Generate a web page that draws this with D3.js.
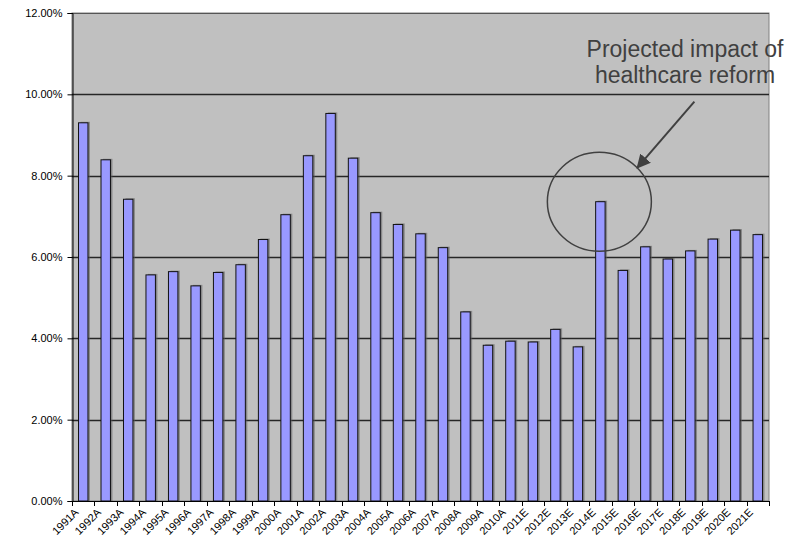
<!DOCTYPE html>
<html>
<head>
<meta charset="utf-8">
<script src="https://cdn.jsdelivr.net/npm/d3@7"></script>
<style>
  html, body { margin: 0; padding: 0; background: #ffffff; }
  svg { display: block; font-family: Arial, "Liberation Sans", sans-serif; }
</style>
</head>
<body>
<svg id="chart" width="794" height="544"></svg>
<script>
// Annual growth rate, actual (A) and estimated (E)
const years = [
  "1991A","1992A","1993A","1994A","1995A","1996A","1997A","1998A","1999A","2000A",
  "2001A","2002A","2003A","2004A","2005A","2006A","2007A","2008A","2009A","2010A",
  "2011E","2012E","2013E","2014E","2015E","2016E","2017E","2018E","2019E","2020E","2021E"
];
const growth = [
  9.30, 8.39, 7.42, 5.56, 5.64, 5.29, 5.62, 5.81, 6.43, 7.04,
  8.49, 9.53, 8.43, 7.09, 6.80, 6.57, 6.23, 4.65, 3.83, 3.93,
  3.91, 4.22, 3.79, 7.36, 5.67, 6.25, 5.95, 6.15, 6.44, 6.66, 6.55
];
const yTicks = [0, 2, 4, 6, 8, 10, 12];
const calloutYear = "2014E";
const calloutLines = ["Projected impact of", "healthcare reform"];

const svg = d3.select("#chart");
const margin = { left: 72, top: 13, right: 25, bottom: 43 };
const W = 794, H = 544;
const innerW = W - margin.left - margin.right;
const innerH = H - margin.top - margin.bottom;

const x = d3.scaleBand().domain(years).range([0, innerW]).paddingInner(0.58).paddingOuter(0.29);
const xEdge = d3.scaleLinear().domain([0, years.length]).range([0, innerW]);
const y = d3.scaleLinear().domain([0, 12]).range([innerH, 0]);

const g = svg.append("g").attr("transform", `translate(${margin.left},${margin.top})`);

// plot background
g.append("rect")
  .attr("x", 0).attr("y", 0).attr("width", innerW).attr("height", innerH)
  .attr("fill", "#c0c0c0").attr("stroke", "#808080").attr("stroke-width", 1);

// horizontal gridlines
g.selectAll("line.grid").data(yTicks.filter(t => t > 0 && t < 12)).join("line")
  .attr("class", "grid")
  .attr("x1", 0).attr("x2", innerW)
  .attr("y1", d => Math.round(y(d)) + 0.5).attr("y2", d => Math.round(y(d)) + 0.5)
  .attr("stroke", "#262626").attr("stroke-width", 1.3);

// top border line
g.append("line").attr("x1", 0).attr("x2", innerW).attr("y1", 0.5).attr("y2", 0.5)
  .attr("stroke", "#555").attr("stroke-width", 1.2);

// bar shadows
g.selectAll("rect.shadow").data(years).join("rect")
  .attr("class", "shadow")
  .attr("x", d => x(d) + 2)
  .attr("y", (d, i) => y(growth[i]) - 1)
  .attr("width", x.bandwidth())
  .attr("height", (d, i) => innerH - y(growth[i]) + 1)
  .attr("fill", "#5a5a5a").attr("opacity", 0.55);

// bars
g.selectAll("rect.bar").data(years).join("rect")
  .attr("class", "bar")
  .attr("x", d => x(d))
  .attr("y", (d, i) => y(growth[i]))
  .attr("width", x.bandwidth())
  .attr("height", (d, i) => innerH - y(growth[i]))
  .attr("fill", "#9999ff").attr("stroke", "#111").attr("stroke-width", 1);

// y axis
const yAxis = d3.axisLeft(y).tickValues(yTicks).tickSize(5).tickFormat(d => d3.format(".2f")(d) + "%");
const ya = g.append("g").attr("transform", "translate(0.5,0)").call(yAxis);
ya.select(".domain").attr("stroke", "#000");
ya.selectAll(".tick line").attr("stroke", "#000");
ya.selectAll(".tick text").attr("font-size", 11).attr("fill", "#000").attr("x", -10)
  .attr("font-family", "Arial, 'Liberation Sans', sans-serif");

// x axis baseline and category boundary ticks
g.append("line").attr("x1", 0).attr("x2", innerW).attr("y1", innerH + 0.5).attr("y2", innerH + 0.5)
  .attr("stroke", "#000").attr("stroke-width", 1);
g.selectAll("line.xtick").data(d3.range(years.length + 1)).join("line")
  .attr("class", "xtick")
  .attr("x1", d => Math.round(xEdge(d)) + 0.5).attr("x2", d => Math.round(xEdge(d)) + 0.5)
  .attr("y1", innerH).attr("y2", innerH + 5)
  .attr("stroke", "#000");

// rotated category labels
g.selectAll("text.xlab").data(years).join("text")
  .attr("class", "xlab")
  .attr("transform", d => `translate(${x(d) + x.bandwidth() / 2 - 4},${innerH + 12}) rotate(-45)`)
  .attr("text-anchor", "end")
  .attr("font-size", 11)
  .attr("fill", "#000")
  .text(d => d);

// callout: ellipse around the highlighted bar, arrow and note
const ci = years.indexOf(calloutYear);
const cx = x(calloutYear) + x.bandwidth() / 2 - 1;
const cy = y(growth[ci]);
g.append("ellipse")
  .attr("cx", cx).attr("cy", cy).attr("rx", 52).attr("ry", 49.5)
  .attr("fill", "none").attr("stroke", "#404040").attr("stroke-width", 1.5);

svg.append("defs").append("marker")
  .attr("id", "arrowhead")
  .attr("viewBox", "0 0 10 10").attr("refX", 9).attr("refY", 5)
  .attr("markerWidth", 7).attr("markerHeight", 7).attr("markerUnits", "strokeWidth")
  .attr("orient", "auto")
  .append("path").attr("d", "M0,0 L10,5 L0,10 Z").attr("fill", "#404040");

g.append("line")
  .attr("x1", cx + 95).attr("y1", cy - 100)
  .attr("x2", cx + 38).attr("y2", cy - 34)
  .attr("stroke", "#404040").attr("stroke-width", 2)
  .attr("marker-end", "url(#arrowhead)");

const note = svg.append("text")
  .attr("text-anchor", "middle")
  .attr("font-size", 23)
  .attr("fill", "#404040");
note.selectAll("tspan").data(calloutLines).join("tspan")
  .attr("x", 685)
  .attr("y", (d, i) => 57 + i * 26)
  .text(d => d);
</script>
</body>
</html>
